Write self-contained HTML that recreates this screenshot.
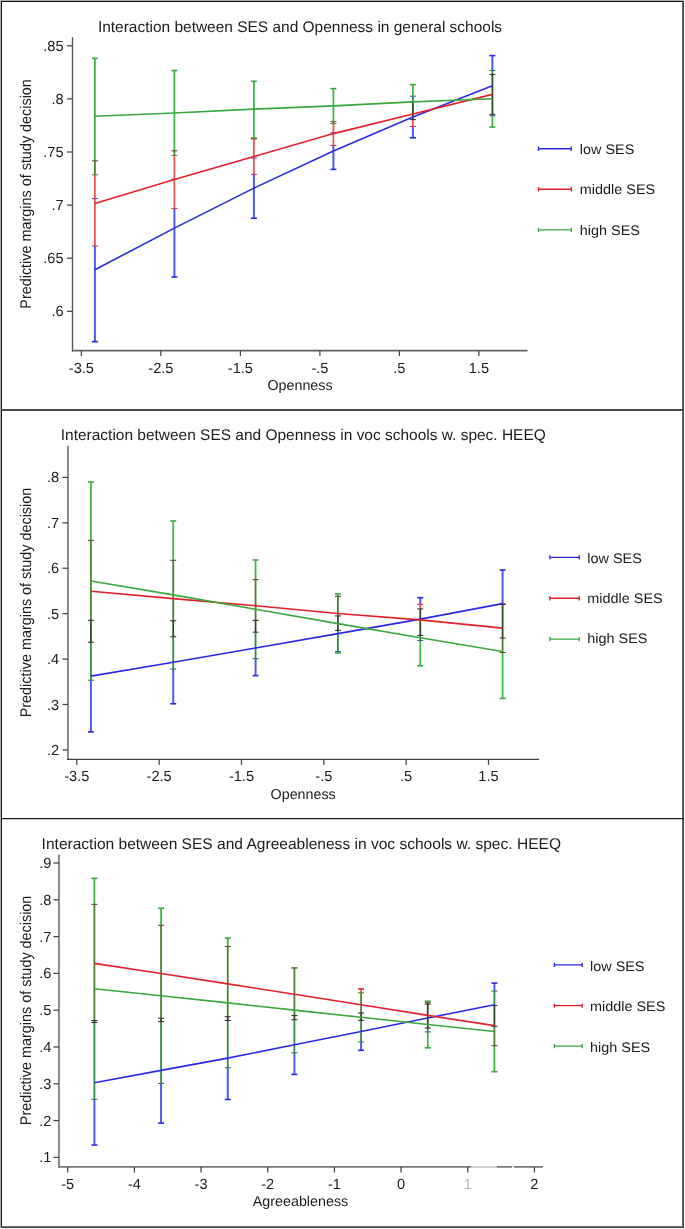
<!DOCTYPE html>
<html><head><meta charset="utf-8"><style>
html,body{margin:0;padding:0;background:#fff;}
body{width:685px;height:1229px;overflow:hidden;}
svg{display:block;text-rendering:geometricPrecision;-webkit-font-smoothing:antialiased;will-change:transform;}
.t{font-family:"Liberation Sans", sans-serif;font-size:14.6px;fill:#1c1c1c;}
.xt{font-family:"Liberation Sans", sans-serif;font-size:14.3px;fill:#1c1c1c;}
.yt{font-family:"Liberation Sans", sans-serif;font-size:14.4px;fill:#1c1c1c;}
.lg{font-family:"Liberation Sans", sans-serif;font-size:13.8px;fill:#1c1c1c;}
.ti{font-family:"Liberation Sans", sans-serif;font-size:15.48px;fill:#1c1c1c;}
</style></head><body>
<svg width="685" height="1229" viewBox="0 0 685 1229">

<rect x="0" y="0" width="685" height="1229" fill="#fff"/>
<path d="M0.5 0V1228M0 0.5H684" stroke="#b0b0b0" stroke-width="1" fill="none"/>
<path d="M1.5 1V1228M1 1.5H684" stroke="#141414" stroke-width="1" fill="none"/>
<path d="M683.1 1V1228" stroke="#383838" stroke-width="1.7" fill="none"/>
<path d="M1 410H684" stroke="#4a4a4a" stroke-width="2" fill="none"/>
<path d="M1 818.5H684" stroke="#1c1c1c" stroke-width="1.25" fill="none"/>
<path d="M1 1227.1H684" stroke="#444" stroke-width="1.8" fill="none"/>

<path d="M72.5 37.2V351.4" fill="none" stroke="#555" stroke-width="1.4"/>
<path d="M71.8 350.6H527.5" fill="none" stroke="#606060" stroke-width="1.6"/>
<line x1="67" y1="45.8" x2="72.5" y2="45.8" stroke="#444" stroke-width="1.25"/>
<text x="63.6" y="50.8" text-anchor="end" class="t">.85</text>
<line x1="67" y1="98.9" x2="72.5" y2="98.9" stroke="#444" stroke-width="1.25"/>
<text x="63.6" y="103.9" text-anchor="end" class="t">.8</text>
<line x1="67" y1="152" x2="72.5" y2="152" stroke="#444" stroke-width="1.25"/>
<text x="63.6" y="157" text-anchor="end" class="t">.75</text>
<line x1="67" y1="205.1" x2="72.5" y2="205.1" stroke="#444" stroke-width="1.25"/>
<text x="63.6" y="210.1" text-anchor="end" class="t">.7</text>
<line x1="67" y1="258.2" x2="72.5" y2="258.2" stroke="#444" stroke-width="1.25"/>
<text x="63.6" y="263.2" text-anchor="end" class="t">.65</text>
<line x1="67" y1="311.3" x2="72.5" y2="311.3" stroke="#444" stroke-width="1.25"/>
<text x="63.6" y="316.3" text-anchor="end" class="t">.6</text>
<line x1="81.4" y1="350.6" x2="81.4" y2="356.1" stroke="#444" stroke-width="1.25"/>
<text x="81.4" y="372.7" text-anchor="middle" class="t">-3.5</text>
<line x1="160.9" y1="350.6" x2="160.9" y2="356.1" stroke="#444" stroke-width="1.25"/>
<text x="160.9" y="372.7" text-anchor="middle" class="t">-2.5</text>
<line x1="240.4" y1="350.6" x2="240.4" y2="356.1" stroke="#444" stroke-width="1.25"/>
<text x="240.4" y="372.7" text-anchor="middle" class="t">-1.5</text>
<line x1="319.9" y1="350.6" x2="319.9" y2="356.1" stroke="#444" stroke-width="1.25"/>
<text x="319.9" y="372.7" text-anchor="middle" class="t">-.5</text>
<line x1="399.4" y1="350.6" x2="399.4" y2="356.1" stroke="#444" stroke-width="1.25"/>
<text x="399.4" y="372.7" text-anchor="middle" class="t">.5</text>
<line x1="478.9" y1="350.6" x2="478.9" y2="356.1" stroke="#444" stroke-width="1.25"/>
<text x="478.9" y="372.7" text-anchor="middle" class="t">1.5</text>
<text x="300" y="31.9" text-anchor="middle" class="ti" style="font-size:15.48px">Interaction between SES and Openness in general schools</text>
<text x="300" y="390.2" text-anchor="middle" class="xt">Openness</text>
<text transform="translate(31 193.9) rotate(-90) scale(1 1.07)" text-anchor="middle" class="yt">Predictive margins of study decision</text>
<line x1="94.9" y1="58.3" x2="94.9" y2="160.8" stroke="#3db441" stroke-width="1.75"/>
<line x1="94.9" y1="160.8" x2="94.9" y2="174.8" stroke="#467f2b" stroke-width="1.75"/>
<line x1="94.9" y1="174.8" x2="94.9" y2="198.6" stroke="#e95650" stroke-width="1.75"/>
<line x1="94.9" y1="198.6" x2="94.9" y2="246" stroke="#e95650" stroke-width="1.75"/>
<line x1="94.9" y1="246" x2="94.9" y2="341.7" stroke="#5058ee" stroke-width="2.0"/>
<line x1="174.4" y1="70.5" x2="174.4" y2="150.8" stroke="#3db441" stroke-width="1.75"/>
<line x1="174.4" y1="150.8" x2="174.4" y2="155.5" stroke="#467f2b" stroke-width="1.75"/>
<line x1="174.4" y1="155.5" x2="174.4" y2="179.2" stroke="#e95650" stroke-width="1.75"/>
<line x1="174.4" y1="179.2" x2="174.4" y2="208.5" stroke="#e95650" stroke-width="1.75"/>
<line x1="174.4" y1="208.5" x2="174.4" y2="277" stroke="#5058ee" stroke-width="2.0"/>
<line x1="253.9" y1="81.3" x2="253.9" y2="138" stroke="#3db441" stroke-width="1.75"/>
<line x1="253.9" y1="138.8" x2="253.9" y2="158" stroke="#e95650" stroke-width="1.75"/>
<line x1="253.9" y1="158" x2="253.9" y2="174.4" stroke="#e95650" stroke-width="1.75"/>
<line x1="253.9" y1="174.4" x2="253.9" y2="218.2" stroke="#5058ee" stroke-width="2.0"/>
<line x1="333.4" y1="88.6" x2="333.4" y2="121.7" stroke="#3db441" stroke-width="1.75"/>
<line x1="333.4" y1="121.7" x2="333.4" y2="123.6" stroke="#467f2b" stroke-width="1.75"/>
<line x1="333.4" y1="123.6" x2="333.4" y2="132.8" stroke="#e95650" stroke-width="1.75"/>
<line x1="333.4" y1="132.8" x2="333.4" y2="145.5" stroke="#e95650" stroke-width="1.75"/>
<line x1="333.4" y1="145.5" x2="333.4" y2="169.4" stroke="#5058ee" stroke-width="2.0"/>
<line x1="412.9" y1="84.6" x2="412.9" y2="96.2" stroke="#3db441" stroke-width="1.75"/>
<line x1="412.9" y1="96.2" x2="412.9" y2="101.5" stroke="#2f8a40" stroke-width="1.75"/>
<line x1="412.9" y1="101.5" x2="412.9" y2="119.6" stroke="#26461f" stroke-width="1.75"/>
<line x1="412.9" y1="119.6" x2="412.9" y2="126.5" stroke="#e95650" stroke-width="1.75"/>
<line x1="412.9" y1="126.5" x2="412.9" y2="137.8" stroke="#5058ee" stroke-width="2.0"/>
<line x1="492.4" y1="55.6" x2="492.4" y2="70.5" stroke="#5058ee" stroke-width="2.0"/>
<line x1="492.4" y1="70.5" x2="492.4" y2="74.5" stroke="#2f8a40" stroke-width="1.75"/>
<line x1="492.4" y1="74.5" x2="492.4" y2="114.3" stroke="#26461f" stroke-width="1.75"/>
<line x1="492.4" y1="114.3" x2="492.4" y2="115.8" stroke="#2f8a40" stroke-width="1.75"/>
<line x1="492.4" y1="115.8" x2="492.4" y2="127.1" stroke="#3db441" stroke-width="1.75"/>
<line x1="91.9" y1="198.6" x2="97.9" y2="198.6" stroke="#8a3a9a" stroke-width="1.1"/>
<line x1="91.9" y1="341.7" x2="97.9" y2="341.7" stroke="#2a2ae6" stroke-width="1.6"/>
<line x1="91.9" y1="160.8" x2="97.9" y2="160.8" stroke="#6a4a30" stroke-width="1.1"/>
<line x1="91.9" y1="246" x2="97.9" y2="246" stroke="#d03a5a" stroke-width="1.1"/>
<line x1="91.9" y1="58.3" x2="97.9" y2="58.3" stroke="#3aa83e" stroke-width="1.6"/>
<line x1="91.9" y1="174.8" x2="97.9" y2="174.8" stroke="#5a8a30" stroke-width="1.1"/>
<line x1="171.4" y1="179.2" x2="177.4" y2="179.2" stroke="#8a3a9a" stroke-width="1.1"/>
<line x1="171.4" y1="277" x2="177.4" y2="277" stroke="#2a2ae6" stroke-width="1.6"/>
<line x1="171.4" y1="150.8" x2="177.4" y2="150.8" stroke="#6a4a30" stroke-width="1.1"/>
<line x1="171.4" y1="208.5" x2="177.4" y2="208.5" stroke="#d03a5a" stroke-width="1.1"/>
<line x1="171.4" y1="70.5" x2="177.4" y2="70.5" stroke="#3aa83e" stroke-width="1.6"/>
<line x1="171.4" y1="155.5" x2="177.4" y2="155.5" stroke="#5a8a30" stroke-width="1.1"/>
<line x1="250.9" y1="158" x2="256.9" y2="158" stroke="#8a3a9a" stroke-width="1.1"/>
<line x1="250.9" y1="218.2" x2="256.9" y2="218.2" stroke="#2a2ae6" stroke-width="1.6"/>
<line x1="250.9" y1="138.8" x2="256.9" y2="138.8" stroke="#e3202a" stroke-width="1.6"/>
<line x1="250.9" y1="174.4" x2="256.9" y2="174.4" stroke="#d03a5a" stroke-width="1.1"/>
<line x1="250.9" y1="81.3" x2="256.9" y2="81.3" stroke="#3aa83e" stroke-width="1.6"/>
<line x1="250.9" y1="138" x2="256.9" y2="138" stroke="#3aa83e" stroke-width="1.6"/>
<line x1="330.4" y1="132.8" x2="336.4" y2="132.8" stroke="#8a3a9a" stroke-width="1.1"/>
<line x1="330.4" y1="169.4" x2="336.4" y2="169.4" stroke="#2a2ae6" stroke-width="1.6"/>
<line x1="330.4" y1="121.7" x2="336.4" y2="121.7" stroke="#6a4a30" stroke-width="1.1"/>
<line x1="330.4" y1="145.5" x2="336.4" y2="145.5" stroke="#d03a5a" stroke-width="1.1"/>
<line x1="330.4" y1="88.6" x2="336.4" y2="88.6" stroke="#3aa83e" stroke-width="1.6"/>
<line x1="330.4" y1="123.6" x2="336.4" y2="123.6" stroke="#5a8a30" stroke-width="1.1"/>
<line x1="409.9" y1="96.2" x2="415.9" y2="96.2" stroke="#2f6a82" stroke-width="1.1"/>
<line x1="409.9" y1="137.8" x2="415.9" y2="137.8" stroke="#2a2ae6" stroke-width="1.6"/>
<line x1="409.9" y1="101.5" x2="415.9" y2="101.5" stroke="#40303a" stroke-width="1.1"/>
<line x1="409.9" y1="126.5" x2="415.9" y2="126.5" stroke="#d03a5a" stroke-width="1.1"/>
<line x1="409.9" y1="84.6" x2="415.9" y2="84.6" stroke="#3aa83e" stroke-width="1.6"/>
<line x1="409.9" y1="119.6" x2="415.9" y2="119.6" stroke="#40303a" stroke-width="1.1"/>
<line x1="489.4" y1="55.6" x2="495.4" y2="55.6" stroke="#2a2ae6" stroke-width="1.6"/>
<line x1="489.4" y1="115.8" x2="495.4" y2="115.8" stroke="#2f6a82" stroke-width="1.1"/>
<line x1="489.4" y1="74.5" x2="495.4" y2="74.5" stroke="#40303a" stroke-width="1.1"/>
<line x1="489.4" y1="114.3" x2="495.4" y2="114.3" stroke="#40303a" stroke-width="1.1"/>
<line x1="489.4" y1="70.5" x2="495.4" y2="70.5" stroke="#2f7a5a" stroke-width="1.1"/>
<line x1="489.4" y1="127.1" x2="495.4" y2="127.1" stroke="#3aa83e" stroke-width="1.6"/>
<polyline points="94.9,269.7 174.4,228.1 253.9,188.1 333.4,151.1 412.9,117 492.4,85.8" stroke="#2a2ae6" stroke-width="1.6" fill="none" stroke-linejoin="round"/>
<polyline points="94.9,203.4 174.4,179.4 253.9,156.6 333.4,133.6 412.9,114 492.4,94.4" stroke="#e3202a" stroke-width="1.6" fill="none" stroke-linejoin="round"/>
<polyline points="94.9,116.3 174.4,113 253.9,109.1 333.4,105.9 412.9,101.9 492.4,98.8" stroke="#3aa83e" stroke-width="1.6" fill="none" stroke-linejoin="round"/>
<path d="M538.5 148.7H571.2M538.5 146.5V150.9M571.2 146.5V150.9" stroke="#2a2ae6" stroke-width="1.35" fill="none"/>
<text transform="translate(579.8 154) scale(1.045 1)" class="lg">low SES</text>
<path d="M538.5 189.2H571.2M538.5 187V191.4M571.2 187V191.4" stroke="#e3202a" stroke-width="1.35" fill="none"/>
<text transform="translate(579.8 194) scale(1.045 1)" class="lg">middle SES</text>
<path d="M538.5 229.9H571.2M538.5 227.7V232.1M571.2 227.7V232.1" stroke="#3aa83e" stroke-width="1.35" fill="none"/>
<text transform="translate(579.8 234.8) scale(1.045 1)" class="lg">high SES</text>
<path d="M67.95 445.8V760.05" fill="none" stroke="#8a8a8a" stroke-width="2.0"/>
<path d="M66.95 759.4H539" fill="none" stroke="#404040" stroke-width="1.3"/>
<line x1="62.45" y1="477.4" x2="67.95" y2="477.4" stroke="#444" stroke-width="1.25"/>
<text x="59.1" y="482.4" text-anchor="end" class="t">.8</text>
<line x1="62.45" y1="522.82" x2="67.95" y2="522.82" stroke="#444" stroke-width="1.25"/>
<text x="59.1" y="527.82" text-anchor="end" class="t">.7</text>
<line x1="62.45" y1="568.24" x2="67.95" y2="568.24" stroke="#444" stroke-width="1.25"/>
<text x="59.1" y="573.24" text-anchor="end" class="t">.6</text>
<line x1="62.45" y1="613.66" x2="67.95" y2="613.66" stroke="#444" stroke-width="1.25"/>
<text x="59.1" y="618.66" text-anchor="end" class="t">.5</text>
<line x1="62.45" y1="659.08" x2="67.95" y2="659.08" stroke="#444" stroke-width="1.25"/>
<text x="59.1" y="664.08" text-anchor="end" class="t">.4</text>
<line x1="62.45" y1="704.5" x2="67.95" y2="704.5" stroke="#444" stroke-width="1.25"/>
<text x="59.1" y="709.5" text-anchor="end" class="t">.3</text>
<line x1="62.45" y1="749.92" x2="67.95" y2="749.92" stroke="#444" stroke-width="1.25"/>
<text x="59.1" y="754.92" text-anchor="end" class="t">.2</text>
<line x1="76.8" y1="759.4" x2="76.8" y2="764.9" stroke="#444" stroke-width="1.25"/>
<text x="76.8" y="781.3" text-anchor="middle" class="t">-3.5</text>
<line x1="159.14" y1="759.4" x2="159.14" y2="764.9" stroke="#444" stroke-width="1.25"/>
<text x="159.14" y="781.3" text-anchor="middle" class="t">-2.5</text>
<line x1="241.48" y1="759.4" x2="241.48" y2="764.9" stroke="#444" stroke-width="1.25"/>
<text x="241.48" y="781.3" text-anchor="middle" class="t">-1.5</text>
<line x1="323.82" y1="759.4" x2="323.82" y2="764.9" stroke="#444" stroke-width="1.25"/>
<text x="323.82" y="781.3" text-anchor="middle" class="t">-.5</text>
<line x1="406.16" y1="759.4" x2="406.16" y2="764.9" stroke="#444" stroke-width="1.25"/>
<text x="406.16" y="781.3" text-anchor="middle" class="t">.5</text>
<line x1="488.5" y1="759.4" x2="488.5" y2="764.9" stroke="#444" stroke-width="1.25"/>
<text x="488.5" y="781.3" text-anchor="middle" class="t">1.5</text>
<text x="303.3" y="440.2" text-anchor="middle" class="ti" style="font-size:15.48px">Interaction between SES and Openness in voc schools w. spec. HEEQ</text>
<text x="303.2" y="799.1" text-anchor="middle" class="xt">Openness</text>
<text transform="translate(31 602.5) rotate(-90) scale(1 1.07)" text-anchor="middle" class="yt">Predictive margins of study decision</text>
<line x1="90.9" y1="482" x2="90.9" y2="540.4" stroke="#3db441" stroke-width="1.75"/>
<line x1="90.9" y1="540.4" x2="90.9" y2="620.3" stroke="#467f2b" stroke-width="1.75"/>
<line x1="90.9" y1="620.3" x2="90.9" y2="642.3" stroke="#26461f" stroke-width="1.75"/>
<line x1="90.9" y1="642.3" x2="90.9" y2="680.2" stroke="#2f8a40" stroke-width="1.75"/>
<line x1="90.9" y1="680.2" x2="90.9" y2="731.9" stroke="#5058ee" stroke-width="2.0"/>
<line x1="173.24" y1="521" x2="173.24" y2="560.3" stroke="#3db441" stroke-width="1.75"/>
<line x1="173.24" y1="560.3" x2="173.24" y2="620.7" stroke="#467f2b" stroke-width="1.75"/>
<line x1="173.24" y1="620.7" x2="173.24" y2="636.8" stroke="#26461f" stroke-width="1.75"/>
<line x1="173.24" y1="636.8" x2="173.24" y2="669" stroke="#2f8a40" stroke-width="1.75"/>
<line x1="173.24" y1="669" x2="173.24" y2="703.8" stroke="#5058ee" stroke-width="2.0"/>
<line x1="255.58" y1="560" x2="255.58" y2="579.6" stroke="#3db441" stroke-width="1.75"/>
<line x1="255.58" y1="579.6" x2="255.58" y2="620.4" stroke="#467f2b" stroke-width="1.75"/>
<line x1="255.58" y1="620.4" x2="255.58" y2="632.2" stroke="#26461f" stroke-width="1.75"/>
<line x1="255.58" y1="632.2" x2="255.58" y2="658.6" stroke="#2f8a40" stroke-width="1.75"/>
<line x1="255.58" y1="658.6" x2="255.58" y2="675.6" stroke="#5058ee" stroke-width="2.0"/>
<line x1="337.92" y1="593.9" x2="337.92" y2="596.3" stroke="#3db441" stroke-width="1.75"/>
<line x1="337.92" y1="596.3" x2="337.92" y2="615.9" stroke="#467f2b" stroke-width="1.75"/>
<line x1="337.92" y1="615.9" x2="337.92" y2="630.4" stroke="#26461f" stroke-width="1.75"/>
<line x1="337.92" y1="630.4" x2="337.92" y2="651.5" stroke="#2f8a40" stroke-width="1.75"/>
<line x1="337.92" y1="651.5" x2="337.92" y2="653" stroke="#3db441" stroke-width="1.75"/>
<line x1="420.26" y1="597.7" x2="420.26" y2="604.4" stroke="#5058ee" stroke-width="2.0"/>
<line x1="420.26" y1="604.4" x2="420.26" y2="608.9" stroke="#e95650" stroke-width="1.75"/>
<line x1="420.26" y1="608.9" x2="420.26" y2="635.4" stroke="#26461f" stroke-width="1.75"/>
<line x1="420.26" y1="635.4" x2="420.26" y2="640.5" stroke="#2f8a40" stroke-width="1.75"/>
<line x1="420.26" y1="640.5" x2="420.26" y2="665.8" stroke="#3db441" stroke-width="1.75"/>
<line x1="502.6" y1="570" x2="502.6" y2="603.7" stroke="#5058ee" stroke-width="2.0"/>
<line x1="502.6" y1="603.7" x2="502.6" y2="604.5" stroke="#e95650" stroke-width="1.75"/>
<line x1="502.6" y1="604.5" x2="502.6" y2="638" stroke="#26461f" stroke-width="1.75"/>
<line x1="502.6" y1="638" x2="502.6" y2="652.5" stroke="#467f2b" stroke-width="1.75"/>
<line x1="502.6" y1="652.5" x2="502.6" y2="698.4" stroke="#3db441" stroke-width="1.75"/>
<line x1="87.9" y1="620.3" x2="93.9" y2="620.3" stroke="#40303a" stroke-width="1.1"/>
<line x1="87.9" y1="731.9" x2="93.9" y2="731.9" stroke="#2a2ae6" stroke-width="1.6"/>
<line x1="87.9" y1="540.4" x2="93.9" y2="540.4" stroke="#6a4a30" stroke-width="1.1"/>
<line x1="87.9" y1="642.3" x2="93.9" y2="642.3" stroke="#40303a" stroke-width="1.1"/>
<line x1="87.9" y1="482" x2="93.9" y2="482" stroke="#3aa83e" stroke-width="1.6"/>
<line x1="87.9" y1="680.2" x2="93.9" y2="680.2" stroke="#2f7a5a" stroke-width="1.1"/>
<line x1="170.24" y1="620.7" x2="176.24" y2="620.7" stroke="#40303a" stroke-width="1.1"/>
<line x1="170.24" y1="703.8" x2="176.24" y2="703.8" stroke="#2a2ae6" stroke-width="1.6"/>
<line x1="170.24" y1="560.3" x2="176.24" y2="560.3" stroke="#6a4a30" stroke-width="1.1"/>
<line x1="170.24" y1="636.8" x2="176.24" y2="636.8" stroke="#40303a" stroke-width="1.1"/>
<line x1="170.24" y1="521" x2="176.24" y2="521" stroke="#3aa83e" stroke-width="1.6"/>
<line x1="170.24" y1="669" x2="176.24" y2="669" stroke="#2f7a5a" stroke-width="1.1"/>
<line x1="252.58" y1="620.4" x2="258.58" y2="620.4" stroke="#40303a" stroke-width="1.1"/>
<line x1="252.58" y1="675.6" x2="258.58" y2="675.6" stroke="#2a2ae6" stroke-width="1.6"/>
<line x1="252.58" y1="579.6" x2="258.58" y2="579.6" stroke="#6a4a30" stroke-width="1.1"/>
<line x1="252.58" y1="632.2" x2="258.58" y2="632.2" stroke="#40303a" stroke-width="1.1"/>
<line x1="252.58" y1="560" x2="258.58" y2="560" stroke="#3aa83e" stroke-width="1.6"/>
<line x1="252.58" y1="658.6" x2="258.58" y2="658.6" stroke="#2f7a5a" stroke-width="1.1"/>
<line x1="334.92" y1="615.9" x2="340.92" y2="615.9" stroke="#40303a" stroke-width="1.1"/>
<line x1="334.92" y1="651.5" x2="340.92" y2="651.5" stroke="#2f6a82" stroke-width="1.1"/>
<line x1="334.92" y1="596.3" x2="340.92" y2="596.3" stroke="#6a4a30" stroke-width="1.1"/>
<line x1="334.92" y1="630.4" x2="340.92" y2="630.4" stroke="#40303a" stroke-width="1.1"/>
<line x1="334.92" y1="593.9" x2="340.92" y2="593.9" stroke="#3aa83e" stroke-width="1.6"/>
<line x1="334.92" y1="653" x2="340.92" y2="653" stroke="#3aa83e" stroke-width="1.6"/>
<line x1="417.26" y1="597.7" x2="423.26" y2="597.7" stroke="#2a2ae6" stroke-width="1.6"/>
<line x1="417.26" y1="640.5" x2="423.26" y2="640.5" stroke="#2f6a82" stroke-width="1.1"/>
<line x1="417.26" y1="604.4" x2="423.26" y2="604.4" stroke="#d03a5a" stroke-width="1.1"/>
<line x1="417.26" y1="635.4" x2="423.26" y2="635.4" stroke="#40303a" stroke-width="1.1"/>
<line x1="417.26" y1="608.9" x2="423.26" y2="608.9" stroke="#40303a" stroke-width="1.1"/>
<line x1="417.26" y1="665.8" x2="423.26" y2="665.8" stroke="#3aa83e" stroke-width="1.6"/>
<line x1="499.6" y1="570" x2="505.6" y2="570" stroke="#2a2ae6" stroke-width="1.6"/>
<line x1="499.6" y1="638" x2="505.6" y2="638" stroke="#40303a" stroke-width="1.1"/>
<line x1="499.6" y1="603.7" x2="505.6" y2="603.7" stroke="#d03a5a" stroke-width="1.1"/>
<line x1="499.6" y1="652.5" x2="505.6" y2="652.5" stroke="#6a4a30" stroke-width="1.1"/>
<line x1="499.6" y1="604.5" x2="505.6" y2="604.5" stroke="#40303a" stroke-width="1.1"/>
<line x1="499.6" y1="698.4" x2="505.6" y2="698.4" stroke="#3aa83e" stroke-width="1.6"/>
<polyline points="90.9,676.1 173.24,662.3 255.58,648 337.92,633.6 420.26,619.1 502.6,603.6" stroke="#2a2ae6" stroke-width="1.6" fill="none" stroke-linejoin="round"/>
<polyline points="90.9,591.3 173.24,598.6 255.58,605.8 337.92,613.5 420.26,619.9 502.6,628.1" stroke="#e3202a" stroke-width="1.6" fill="none" stroke-linejoin="round"/>
<polyline points="90.9,581 173.24,594.9 255.58,609.2 337.92,623.6 420.26,637.8 502.6,651.5" stroke="#3aa83e" stroke-width="1.6" fill="none" stroke-linejoin="round"/>
<path d="M549.9 557.4H579.2M549.9 555.2V559.6M579.2 555.2V559.6" stroke="#2a2ae6" stroke-width="1.35" fill="none"/>
<text transform="translate(587.3 562.5) scale(1.045 1)" class="lg">low SES</text>
<path d="M549.9 598.2H579.2M549.9 596V600.4M579.2 596V600.4" stroke="#e3202a" stroke-width="1.35" fill="none"/>
<text transform="translate(587.3 602.5) scale(1.045 1)" class="lg">middle SES</text>
<path d="M549.9 639.1H579.2M549.9 636.9V641.3M579.2 636.9V641.3" stroke="#3aa83e" stroke-width="1.35" fill="none"/>
<text transform="translate(587.3 643) scale(1.045 1)" class="lg">high SES</text>
<path d="M58.95 854.6V1167.8" fill="none" stroke="#8a8a8a" stroke-width="2.0"/>
<path d="M57.95 1166.9H543" fill="none" stroke="#787878" stroke-width="1.8"/>
<line x1="53.45" y1="863" x2="58.95" y2="863" stroke="#444" stroke-width="1.25"/>
<text x="51.3" y="868" text-anchor="end" class="t">.9</text>
<line x1="53.45" y1="899.8" x2="58.95" y2="899.8" stroke="#444" stroke-width="1.25"/>
<text x="51.3" y="904.8" text-anchor="end" class="t">.8</text>
<line x1="53.45" y1="936.6" x2="58.95" y2="936.6" stroke="#444" stroke-width="1.25"/>
<text x="51.3" y="941.6" text-anchor="end" class="t">.7</text>
<line x1="53.45" y1="973.4" x2="58.95" y2="973.4" stroke="#444" stroke-width="1.25"/>
<text x="51.3" y="978.4" text-anchor="end" class="t">.6</text>
<line x1="53.45" y1="1010.2" x2="58.95" y2="1010.2" stroke="#444" stroke-width="1.25"/>
<text x="51.3" y="1015.2" text-anchor="end" class="t">.5</text>
<line x1="53.45" y1="1047" x2="58.95" y2="1047" stroke="#444" stroke-width="1.25"/>
<text x="51.3" y="1052" text-anchor="end" class="t">.4</text>
<line x1="53.45" y1="1083.8" x2="58.95" y2="1083.8" stroke="#444" stroke-width="1.25"/>
<text x="51.3" y="1088.8" text-anchor="end" class="t">.3</text>
<line x1="53.45" y1="1120.6" x2="58.95" y2="1120.6" stroke="#444" stroke-width="1.25"/>
<text x="51.3" y="1125.6" text-anchor="end" class="t">.2</text>
<line x1="53.45" y1="1157.4" x2="58.95" y2="1157.4" stroke="#444" stroke-width="1.25"/>
<text x="51.3" y="1162.4" text-anchor="end" class="t">.1</text>
<line x1="67.7" y1="1166.9" x2="67.7" y2="1172.4" stroke="#444" stroke-width="1.25"/>
<text x="67.7" y="1188.6" text-anchor="middle" class="t">-5</text>
<line x1="134.37" y1="1166.9" x2="134.37" y2="1172.4" stroke="#444" stroke-width="1.25"/>
<text x="134.37" y="1188.6" text-anchor="middle" class="t">-4</text>
<line x1="201.04" y1="1166.9" x2="201.04" y2="1172.4" stroke="#444" stroke-width="1.25"/>
<text x="201.04" y="1188.6" text-anchor="middle" class="t">-3</text>
<line x1="267.71" y1="1166.9" x2="267.71" y2="1172.4" stroke="#444" stroke-width="1.25"/>
<text x="267.71" y="1188.6" text-anchor="middle" class="t">-2</text>
<line x1="334.38" y1="1166.9" x2="334.38" y2="1172.4" stroke="#444" stroke-width="1.25"/>
<text x="334.38" y="1188.6" text-anchor="middle" class="t">-1</text>
<line x1="401.05" y1="1166.9" x2="401.05" y2="1172.4" stroke="#444" stroke-width="1.25"/>
<text x="401.05" y="1188.6" text-anchor="middle" class="t">0</text>
<line x1="467.72" y1="1166.9" x2="467.72" y2="1172.4" stroke="#444" stroke-width="1.25"/>
<text x="467.72" y="1188.6" text-anchor="middle" class="t" style="fill:#b4b4b4">1</text>
<line x1="534.39" y1="1166.9" x2="534.39" y2="1172.4" stroke="#444" stroke-width="1.25"/>
<text x="534.39" y="1188.6" text-anchor="middle" class="t">2</text>
<text x="301.3" y="849" text-anchor="middle" class="ti" style="font-size:15.56px">Interaction between SES and Agreeableness in voc schools w. spec. HEEQ</text>
<text x="300.5" y="1206.2" text-anchor="middle" class="xt">Agreeableness</text>
<text transform="translate(31 1010.4) rotate(-90) scale(1 1.07)" text-anchor="middle" class="yt">Predictive margins of study decision</text>
<line x1="94.4" y1="878.3" x2="94.4" y2="904.4" stroke="#3db441" stroke-width="1.75"/>
<line x1="94.4" y1="904.4" x2="94.4" y2="1020.6" stroke="#467f2b" stroke-width="1.75"/>
<line x1="94.4" y1="1020.6" x2="94.4" y2="1022.4" stroke="#26461f" stroke-width="1.75"/>
<line x1="94.4" y1="1022.4" x2="94.4" y2="1099.3" stroke="#2f8a40" stroke-width="1.75"/>
<line x1="94.4" y1="1099.3" x2="94.4" y2="1145" stroke="#5058ee" stroke-width="2.0"/>
<line x1="161.07" y1="908.2" x2="161.07" y2="925.3" stroke="#3db441" stroke-width="1.75"/>
<line x1="161.07" y1="925.3" x2="161.07" y2="1018.2" stroke="#467f2b" stroke-width="1.75"/>
<line x1="161.07" y1="1018.2" x2="161.07" y2="1021.6" stroke="#26461f" stroke-width="1.75"/>
<line x1="161.07" y1="1021.6" x2="161.07" y2="1083.4" stroke="#2f8a40" stroke-width="1.75"/>
<line x1="161.07" y1="1083.4" x2="161.07" y2="1123.1" stroke="#5058ee" stroke-width="2.0"/>
<line x1="227.74" y1="938.1" x2="227.74" y2="946.5" stroke="#3db441" stroke-width="1.75"/>
<line x1="227.74" y1="946.5" x2="227.74" y2="1016.7" stroke="#467f2b" stroke-width="1.75"/>
<line x1="227.74" y1="1016.7" x2="227.74" y2="1020.5" stroke="#26461f" stroke-width="1.75"/>
<line x1="227.74" y1="1020.5" x2="227.74" y2="1067.7" stroke="#2f8a40" stroke-width="1.75"/>
<line x1="227.74" y1="1067.7" x2="227.74" y2="1099.5" stroke="#5058ee" stroke-width="2.0"/>
<line x1="294.41" y1="967.9" x2="294.41" y2="1015.5" stroke="#467f2b" stroke-width="1.75"/>
<line x1="294.41" y1="1015.5" x2="294.41" y2="1019.7" stroke="#26461f" stroke-width="1.75"/>
<line x1="294.41" y1="1019.7" x2="294.41" y2="1052.8" stroke="#2f8a40" stroke-width="1.75"/>
<line x1="294.41" y1="1052.8" x2="294.41" y2="1074.4" stroke="#5058ee" stroke-width="2.0"/>
<line x1="361.08" y1="989" x2="361.08" y2="992.7" stroke="#e95650" stroke-width="1.75"/>
<line x1="361.08" y1="992.7" x2="361.08" y2="1013" stroke="#467f2b" stroke-width="1.75"/>
<line x1="361.08" y1="1013" x2="361.08" y2="1020.4" stroke="#26461f" stroke-width="1.75"/>
<line x1="361.08" y1="1020.4" x2="361.08" y2="1041.9" stroke="#2f8a40" stroke-width="1.75"/>
<line x1="361.08" y1="1041.9" x2="361.08" y2="1050.3" stroke="#5058ee" stroke-width="2.0"/>
<line x1="427.75" y1="1001.2" x2="427.75" y2="1002.8" stroke="#3db441" stroke-width="1.75"/>
<line x1="427.75" y1="1002.8" x2="427.75" y2="1004.1" stroke="#467f2b" stroke-width="1.75"/>
<line x1="427.75" y1="1004.1" x2="427.75" y2="1028" stroke="#26461f" stroke-width="1.75"/>
<line x1="427.75" y1="1028" x2="427.75" y2="1031.9" stroke="#2f8a40" stroke-width="1.75"/>
<line x1="427.75" y1="1031.9" x2="427.75" y2="1047.8" stroke="#3db441" stroke-width="1.75"/>
<line x1="494.42" y1="983.1" x2="494.42" y2="991.1" stroke="#5058ee" stroke-width="2.0"/>
<line x1="494.42" y1="991.1" x2="494.42" y2="1005.5" stroke="#2f8a40" stroke-width="1.75"/>
<line x1="494.42" y1="1005.5" x2="494.42" y2="1026.3" stroke="#26461f" stroke-width="1.75"/>
<line x1="494.42" y1="1026.3" x2="494.42" y2="1045.7" stroke="#467f2b" stroke-width="1.75"/>
<line x1="494.42" y1="1045.7" x2="494.42" y2="1071.7" stroke="#3db441" stroke-width="1.75"/>
<line x1="91.4" y1="1020.6" x2="97.4" y2="1020.6" stroke="#40303a" stroke-width="1.1"/>
<line x1="91.4" y1="1145" x2="97.4" y2="1145" stroke="#2a2ae6" stroke-width="1.6"/>
<line x1="91.4" y1="904.4" x2="97.4" y2="904.4" stroke="#6a4a30" stroke-width="1.1"/>
<line x1="91.4" y1="1022.4" x2="97.4" y2="1022.4" stroke="#40303a" stroke-width="1.1"/>
<line x1="91.4" y1="878.3" x2="97.4" y2="878.3" stroke="#3aa83e" stroke-width="1.6"/>
<line x1="91.4" y1="1099.3" x2="97.4" y2="1099.3" stroke="#2f7a5a" stroke-width="1.1"/>
<line x1="158.07" y1="1018.2" x2="164.07" y2="1018.2" stroke="#40303a" stroke-width="1.1"/>
<line x1="158.07" y1="1123.1" x2="164.07" y2="1123.1" stroke="#2a2ae6" stroke-width="1.6"/>
<line x1="158.07" y1="925.3" x2="164.07" y2="925.3" stroke="#6a4a30" stroke-width="1.1"/>
<line x1="158.07" y1="1021.6" x2="164.07" y2="1021.6" stroke="#40303a" stroke-width="1.1"/>
<line x1="158.07" y1="908.2" x2="164.07" y2="908.2" stroke="#3aa83e" stroke-width="1.6"/>
<line x1="158.07" y1="1083.4" x2="164.07" y2="1083.4" stroke="#2f7a5a" stroke-width="1.1"/>
<line x1="224.74" y1="1016.7" x2="230.74" y2="1016.7" stroke="#40303a" stroke-width="1.1"/>
<line x1="224.74" y1="1099.5" x2="230.74" y2="1099.5" stroke="#2a2ae6" stroke-width="1.6"/>
<line x1="224.74" y1="946.5" x2="230.74" y2="946.5" stroke="#6a4a30" stroke-width="1.1"/>
<line x1="224.74" y1="1020.5" x2="230.74" y2="1020.5" stroke="#40303a" stroke-width="1.1"/>
<line x1="224.74" y1="938.1" x2="230.74" y2="938.1" stroke="#3aa83e" stroke-width="1.6"/>
<line x1="224.74" y1="1067.7" x2="230.74" y2="1067.7" stroke="#2f7a5a" stroke-width="1.1"/>
<line x1="291.41" y1="1015.5" x2="297.41" y2="1015.5" stroke="#40303a" stroke-width="1.1"/>
<line x1="291.41" y1="1074.4" x2="297.41" y2="1074.4" stroke="#2a2ae6" stroke-width="1.6"/>
<line x1="291.41" y1="967.9" x2="297.41" y2="967.9" stroke="#6a4a30" stroke-width="1.1"/>
<line x1="291.41" y1="1019.7" x2="297.41" y2="1019.7" stroke="#40303a" stroke-width="1.1"/>
<line x1="291.41" y1="967.9" x2="297.41" y2="967.9" stroke="#5a8a30" stroke-width="1.1"/>
<line x1="291.41" y1="1052.8" x2="297.41" y2="1052.8" stroke="#2f7a5a" stroke-width="1.1"/>
<line x1="358.08" y1="1013" x2="364.08" y2="1013" stroke="#40303a" stroke-width="1.1"/>
<line x1="358.08" y1="1050.3" x2="364.08" y2="1050.3" stroke="#2a2ae6" stroke-width="1.6"/>
<line x1="358.08" y1="989" x2="364.08" y2="989" stroke="#e3202a" stroke-width="1.6"/>
<line x1="358.08" y1="1020.4" x2="364.08" y2="1020.4" stroke="#40303a" stroke-width="1.1"/>
<line x1="358.08" y1="992.7" x2="364.08" y2="992.7" stroke="#5a8a30" stroke-width="1.1"/>
<line x1="358.08" y1="1041.9" x2="364.08" y2="1041.9" stroke="#2f7a5a" stroke-width="1.1"/>
<line x1="424.75" y1="1004.1" x2="430.75" y2="1004.1" stroke="#40303a" stroke-width="1.1"/>
<line x1="424.75" y1="1031.9" x2="430.75" y2="1031.9" stroke="#2f6a82" stroke-width="1.1"/>
<line x1="424.75" y1="1002.8" x2="430.75" y2="1002.8" stroke="#6a4a30" stroke-width="1.1"/>
<line x1="424.75" y1="1028" x2="430.75" y2="1028" stroke="#40303a" stroke-width="1.1"/>
<line x1="424.75" y1="1001.2" x2="430.75" y2="1001.2" stroke="#3aa83e" stroke-width="1.6"/>
<line x1="424.75" y1="1047.8" x2="430.75" y2="1047.8" stroke="#3aa83e" stroke-width="1.6"/>
<line x1="491.42" y1="983.1" x2="497.42" y2="983.1" stroke="#2a2ae6" stroke-width="1.6"/>
<line x1="491.42" y1="1026.3" x2="497.42" y2="1026.3" stroke="#40303a" stroke-width="1.1"/>
<line x1="491.42" y1="1005.5" x2="497.42" y2="1005.5" stroke="#40303a" stroke-width="1.1"/>
<line x1="491.42" y1="1045.7" x2="497.42" y2="1045.7" stroke="#6a4a30" stroke-width="1.1"/>
<line x1="491.42" y1="991.1" x2="497.42" y2="991.1" stroke="#2f7a5a" stroke-width="1.1"/>
<line x1="491.42" y1="1071.7" x2="497.42" y2="1071.7" stroke="#3aa83e" stroke-width="1.6"/>
<polyline points="94.4,1082.8 161.07,1070.4 227.74,1058.1 294.41,1044.8 361.08,1031.5 427.75,1018 494.42,1004.7" stroke="#2a2ae6" stroke-width="1.6" fill="none" stroke-linejoin="round"/>
<polyline points="94.4,963.4 161.07,973.5 227.74,983.9 294.41,994.2 361.08,1004.7 427.75,1015.4 494.42,1025.6" stroke="#e3202a" stroke-width="1.6" fill="none" stroke-linejoin="round"/>
<polyline points="94.4,988.8 161.07,995.7 227.74,1002.9 294.41,1010.1 361.08,1017.3 427.75,1024.5 494.42,1031.5" stroke="#3aa83e" stroke-width="1.6" fill="none" stroke-linejoin="round"/>
<path d="M554.4 964.9H582.2M554.4 962.7V967.1M582.2 962.7V967.1" stroke="#2a2ae6" stroke-width="1.35" fill="none"/>
<text transform="translate(590 970.7) scale(1.045 1)" class="lg">low SES</text>
<path d="M554.4 1005.6H582.2M554.4 1003.4V1007.8M582.2 1003.4V1007.8" stroke="#e3202a" stroke-width="1.35" fill="none"/>
<text transform="translate(590 1010.7) scale(1.045 1)" class="lg">middle SES</text>
<path d="M554.4 1046.1H582.2M554.4 1043.9V1048.3M582.2 1043.9V1048.3" stroke="#3aa83e" stroke-width="1.35" fill="none"/>
<text transform="translate(590 1051.7) scale(1.045 1)" class="lg">high SES</text>
<rect x="471" y="1165.8" width="26" height="2.2" fill="#ffffff"/>
<line x1="471" y1="1166.9" x2="497" y2="1166.9" stroke="#cdcdcd" stroke-width="1.8"/>
<rect x="512" y="1165.8" width="2" height="2.2" fill="#eeeeee"/>
</svg>
</body></html>
